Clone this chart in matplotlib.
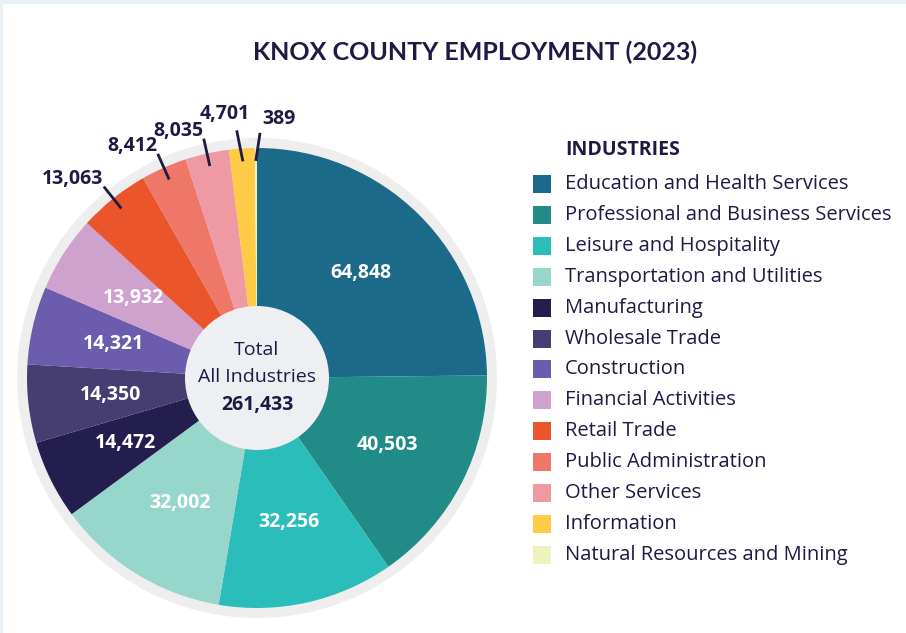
import numpy as np
import matplotlib
matplotlib.use('Agg')
import matplotlib.pyplot as plt
from matplotlib.patches import Rectangle, Circle

# Datos del gráfico
industries = ['Education and Health Services', 'Professional and Business Services',
              'Leisure and Hospitality', 'Transportation and Utilities', 'Manufacturing',
              'Wholesale Trade', 'Construction', 'Financial Activities', 'Retail Trade',
              'Public Administration', 'Other Services', 'Information',
              'Natural Resources and Mining']
employment = [64848, 40503, 32256, 32002, 14472, 14350, 14321, 13932, 13063,
              8412, 8035, 4701, 389]
colors = ['#1C6A8A', '#218B88', '#2ABDB9', '#97D6CA', '#241E4E', '#463D72',
          '#6C5CAD', '#CFA2CE', '#EA552B', '#EE7767', '#EF9AA2', '#FDCB45', '#EEF2BD']
total_label = '261,433'

plt.rcParams['font.family'] = ['Open Sans', 'DejaVu Sans']
navy = '#1D1B44'
fs = 14

fig = plt.figure(figsize=(9.06, 6.33), dpi=100)
fig.patch.set_facecolor('#E8F2F6')
ax = fig.add_axes([0, 0, 1, 1])
ax.set_xlim(0, 906)
ax.set_ylim(0, 633)
ax.axis('off')

# fondo blanco con borde claro
ax.add_patch(Rectangle((3, 0), 903, 629, facecolor='white', edgecolor='none', zorder=0))

cx, cy, R = 257, 255, 230
ax.add_patch(Circle((cx, cy), 240, facecolor='#EEEEEE', edgecolor='none', zorder=1))

wedges, _ = ax.pie(employment, colors=colors, startangle=90, counterclock=False,
                   center=(cx, cy), radius=R, wedgeprops=dict(linewidth=0))
for w in wedges:
    w.set_zorder(2)
ax.set_xlim(0, 906)
ax.set_ylim(0, 633)
ax.set_aspect('auto')

ax.add_patch(Circle((cx, cy), 72, facecolor='#EEEFF2', edgecolor='none', zorder=3))
ax.text(cx, cy + 28, 'Total', ha='center', va='center', fontsize=fs, color=navy, zorder=4)
ax.text(cx, cy + 1, 'All Industries', ha='center', va='center', fontsize=fs, color=navy, zorder=4)
ax.text(cx, cy - 27, total_label, ha='center', va='center', fontsize=fs, color=navy,
        fontweight='bold', zorder=4)

# etiquetas de valores
total = sum(employment)
cum = 0
for i, v in enumerate(employment):
    mid = cum + v / 2
    cum += v
    ang = np.deg2rad(90 - 360 * mid / total)
    c, s = np.cos(ang), np.sin(ang)
    label = f'{v:,}'
    if i < 8:
        r = 0.64 * R
        ax.text(cx + r * c, cy + r * s, label, ha='center', va='center', fontsize=fs,
                color='white', fontweight='bold', zorder=4)
        continue
    x0, y0 = cx + 0.95 * R * c, cy + 0.95 * R * s
    x1, y1 = cx + 1.06 * R * c, cy + 1.06 * R * s
    if i == len(employment) - 1:
        x1 += 4
        ax.plot([x0, x1], [y0, y1], color=navy, lw=2, zorder=4)
        ax.text(x1 + 2, y1 + 5, label, ha='left', va='bottom', fontsize=fs,
                color=navy, fontweight='bold', zorder=4)
    elif i == len(employment) - 2:
        x1 -= 4
        y1 += 3
        ax.plot([x0, x1], [y0, y1], color=navy, lw=2, zorder=4)
        ax.text(x1 + 13, y1 + 8, label, ha='right', va='bottom', fontsize=fs,
                color=navy, fontweight='bold', zorder=4)
    else:
        ax.plot([x0, x1], [y0, y1], color=navy, lw=2, zorder=4)
        ax.text(x1 - 1, y1 - 1, label, ha='right', va='bottom', fontsize=fs,
                color=navy, fontweight='bold', zorder=4)

# título
ax.text(475, 633 - 52, 'KNOX COUNTY EMPLOYMENT (2023)', ha='center', va='center',
        fontsize=18, fontweight='bold', color=navy, family=['Lato', 'DejaVu Sans'])

# leyenda
ax.text(565, 633 - 150, 'INDUSTRIES', ha='left', va='center', fontsize=fs,
        fontweight='bold', color=navy)
for i, (name, col) in enumerate(zip(industries, colors)):
    y = 633 - (184 + i * 30.9)
    ax.add_patch(Rectangle((533, y - 9), 18, 18, facecolor=col, edgecolor='none'))
    ax.text(565, y, name, ha='left', va='center', fontsize=14.5, color=navy)

plt.savefig('out.png', dpi=100, facecolor=fig.get_facecolor())
